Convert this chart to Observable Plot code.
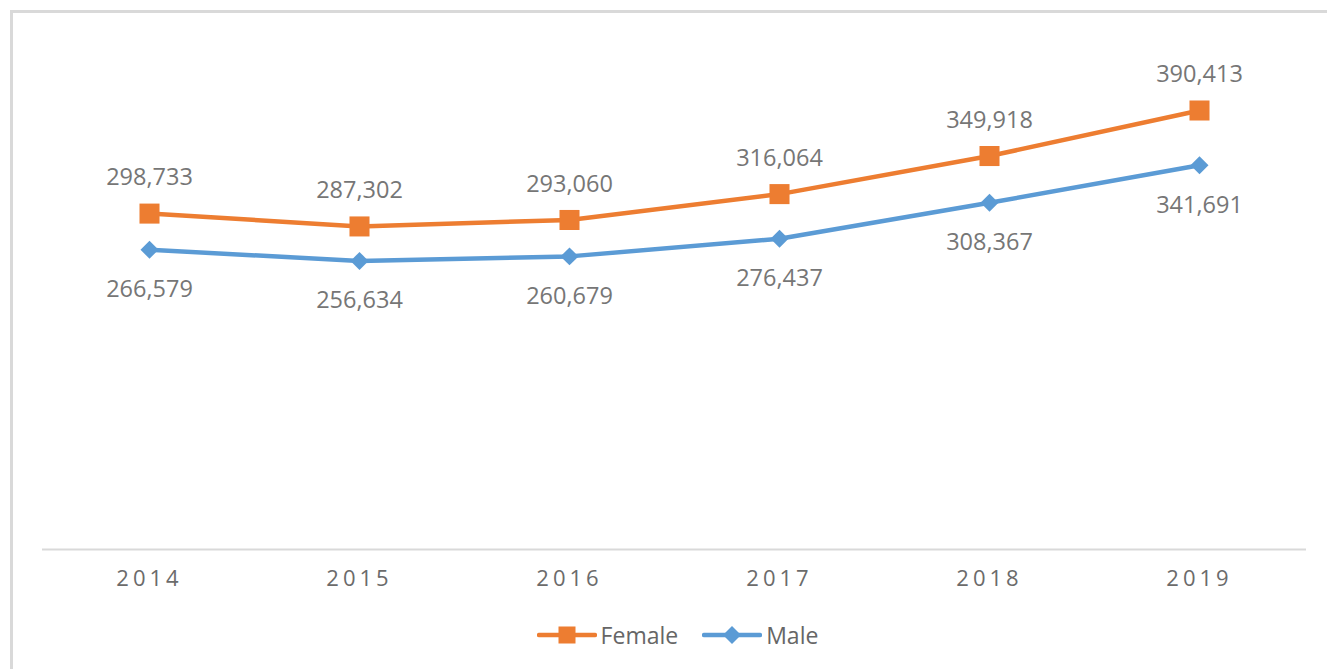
<!DOCTYPE html>
<html>
<head>
<meta charset="utf-8">
<script src="https://cdn.jsdelivr.net/npm/d3@7"></script>
<script src="https://cdn.jsdelivr.net/npm/@observablehq/plot@0.6"></script>
<style>
  html, body { margin: 0; padding: 0; background: #fff; width: 1327px; height: 669px; overflow: hidden; }
  #frame { position: absolute; left: 10px; top: 10px; width: 1330px; height: 670px;
           border-top: 3px solid #d9d9d9; border-left: 3px solid #d9d9d9; box-sizing: border-box; }
  #chart { position: absolute; left: 0; top: 0; }
  #chart svg { font-family: "Open Sans", sans-serif; }
  #chart g[aria-label="x-axis tick label"] text { letter-spacing: 4px; }
  #legend { position: absolute; left: 14px; top: 616px; width: 1327px; height: 38px;
            display: flex; justify-content: center; align-items: center;
            font-family: "Open Sans", sans-serif; font-size: 23px; color: #666666; }
  .item { display: flex; align-items: center; margin: 0 12px; }
  .item svg { margin-right: 4px; }
</style>
</head>
<body>
<div id="frame"></div>
<div id="chart"></div>
<div id="legend"></div>
<script>
const years = ["2014", "2015", "2016", "2017", "2018", "2019"];
const female = [298733, 287302, 293060, 316064, 349918, 390413];
const male = [266579, 256634, 260679, 276437, 308367, 341691];
const seriesNames = ["Female", "Male"];
const colors = ["#ED7D31", "#5B9BD5"];

const fData = years.map((y, i) => ({year: y, value: female[i]}));
const mData = years.map((y, i) => ({year: y, value: male[i]}));
const fmt = d3.format(",");

const chart = Plot.plot({
  width: 1327,
  height: 610,
  marginLeft: 42,
  marginRight: 21,
  marginTop: 43,
  marginBottom: 61,
  style: {fontFamily: "Open Sans, sans-serif", background: "transparent"},
  x: {type: "point", domain: years, padding: 0.5, label: null, tickSize: 0, tickPadding: 21},
  y: {domain: [0, 450000], axis: null},
  marks: [
    Plot.ruleY([0], {stroke: "#d9d9d9", strokeWidth: 2}),
    Plot.axisX({tickSize: 0, tickPadding: 21, fontSize: 22, fill: "#6b6b6b", label: null}),
    Plot.line(mData, {x: "year", y: "value", stroke: colors[1], strokeWidth: 4.5}),
    Plot.line(fData, {x: "year", y: "value", stroke: colors[0], strokeWidth: 4.5}),
    Plot.dot(mData, {x: "year", y: "value", symbol: "diamond2", r: 8.1, fill: colors[1], stroke: "none"}),
    Plot.dot(fData, {x: "year", y: "value", symbol: "square", r: 11.3, fill: colors[0], stroke: "none"}),
    Plot.text(fData, {x: "year", y: "value", text: d => fmt(d.value), dy: -36, fontSize: 23.5, fill: "#767676"}),
    Plot.text(mData, {x: "year", y: "value", text: d => fmt(d.value), dy: 40, fontSize: 23.5, fill: "#767676"})
  ]
});
document.getElementById("chart").appendChild(chart);

// Legend
const legend = document.getElementById("legend");
seriesNames.forEach((name, i) => {
  const item = document.createElement("div");
  item.className = "item";
  const sym = i === 0
    ? `<rect x="21.5" y="6.5" width="17" height="17" fill="${colors[i]}"/>`
    : `<path d="M30,6 L39,15 L30,24 L21,15 Z" fill="${colors[i]}"/>`;
  item.innerHTML = `<svg width="60" height="30" viewBox="0 0 60 30"><line x1="2" y1="15" x2="58" y2="15" stroke="${colors[i]}" stroke-width="4.5" stroke-linecap="round"/>${sym}</svg><span>${name}</span>`;
  legend.appendChild(item);
});
</script>
</body>
</html>
